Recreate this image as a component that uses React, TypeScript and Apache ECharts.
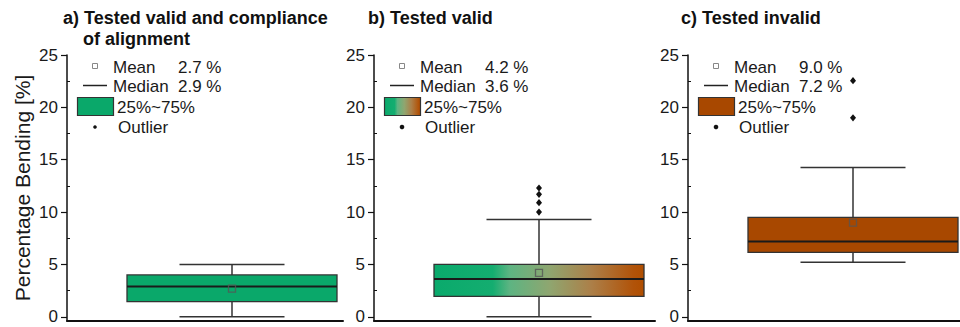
import React, { useEffect, useRef } from 'react';
import * as echarts from 'echarts';

// ---- data ----
const panelTitles: string[][] = [
  ['a) Tested valid and compliance', 'of alignment'],
  ['b) Tested valid'],
  ['c) Tested invalid'],
];
const q1 = [1.45, 1.95, 6.15];
const median = [2.9, 3.6, 7.2];
const q3 = [4.0, 5.0, 9.5];
const whiskerLow = [0.0, 0.0, 5.2];
const whiskerHigh = [5.0, 9.3, 14.25];
const mean = [2.7, 4.2, 9.0];
const outliers: number[][] = [[], [10.0, 10.9, 11.7, 12.3], [19.0, 22.55]];
const yTicks = [0, 5, 10, 15, 20, 25];
const yMinorTicks = [2.5, 7.5, 12.5, 17.5, 22.5];
const yAxisName = 'Percentage Bending [%]';
const legendLabels = ['Mean', 'Median', '25%~75%', 'Outlier'];

// ---- styles / layout ----
const FONT = 'Arial, "Liberation Sans", sans-serif';
const GREEN = '#0aa86a';
const BROWN = '#a84800';
const gradStops = [
  { offset: 0, color: '#0aaa6c' },
  { offset: 0.28, color: '#14ad70' },
  { offset: 0.36, color: '#5db482' },
  { offset: 0.55, color: '#8fa670' },
  { offset: 0.75, color: '#ac7f48' },
  { offset: 0.95, color: '#b15309' },
  { offset: 1, color: '#b04e00' },
];
const makeFill = (i: number) =>
  i === 0 ? GREEN : i === 2 ? BROWN : new echarts.graphic.LinearGradient(0, 0, 1, 0, gradStops);

const grids = [
  { left: 67, width: 276 },
  { left: 374, width: 281 },
  { left: 688, width: 272 },
];
const titleX = [63, 368, 681];
const GRID_TOP = 55;
const GRID_H = 266;
const Y_MIN = -0.4;
const Y_MAX = 25;
const TXT = '#1a1a1a';

export default function App() {
  const ref = useRef<HTMLDivElement>(null);
  useEffect(() => {
    if (!ref.current) return;
    const chart = echarts.init(ref.current, undefined, { renderer: 'svg' });

    const gridOpt = grids.map((g) => ({ left: g.left, width: g.width, top: GRID_TOP, height: GRID_H }));
    const xAxes = grids.map((_, i) => ({
      type: 'value',
      gridIndex: i,
      min: 0,
      max: 1,
      axisLine: { show: true, onZero: false, lineStyle: { color: '#111', width: 2 } },
      axisTick: { show: false },
      axisLabel: { show: false },
      splitLine: { show: false },
    }));
    const mainY = grids.map((_, i) => ({
      type: 'value',
      gridIndex: i,
      min: Y_MIN,
      max: Y_MAX,
      axisLine: { show: true, onZero: false, lineStyle: { color: '#111', width: 1.5 } },
      axisTick: { show: true, length: 6, customValues: yTicks, lineStyle: { color: '#111', width: 1.2 } },
      axisLabel: { show: true, customValues: yTicks, margin: 9, fontSize: 17, color: TXT, fontFamily: FONT },
      splitLine: { show: false },
    }));
    const minorY = grids.map((_, i) => ({
      type: 'value',
      gridIndex: i,
      min: Y_MIN,
      max: Y_MAX,
      axisLine: { show: false },
      axisTick: { show: true, length: 3, customValues: yMinorTicks, lineStyle: { color: '#111', width: 1 } },
      axisLabel: { show: false },
      splitLine: { show: false },
    }));

    const series = grids.map((_, i) => ({
      type: 'custom',
      xAxisIndex: i,
      yAxisIndex: i,
      data: [[0.5, median[i]]],
      encode: { x: 0, y: 1 },
      renderItem: (params: any, api: any) => {
        const cs = params.coordSys;
        const cx = cs.x + 165;
        const Y = (v: number) => api.coord([0, v])[1];
        const hw = 105;
        const cap = 52.5;
        const stroke = '#333';
        const children: any[] = [
          { type: 'line', shape: { x1: cx, y1: Y(whiskerLow[i]), x2: cx, y2: Y(whiskerHigh[i]) }, style: { stroke, lineWidth: 1.5 } },
          { type: 'line', shape: { x1: cx - cap, y1: Y(whiskerLow[i]), x2: cx + cap, y2: Y(whiskerLow[i]) }, style: { stroke, lineWidth: 1.5 } },
          { type: 'line', shape: { x1: cx - cap, y1: Y(whiskerHigh[i]), x2: cx + cap, y2: Y(whiskerHigh[i]) }, style: { stroke, lineWidth: 1.5 } },
          {
            type: 'rect',
            shape: { x: cx - hw, y: Y(q3[i]), width: 2 * hw, height: Y(q1[i]) - Y(q3[i]) },
            style: { fill: makeFill(i), stroke, lineWidth: 1.3 },
          },
          { type: 'line', shape: { x1: cx - hw, y1: Y(median[i]), x2: cx + hw, y2: Y(median[i]) }, style: { stroke: '#1a1a1a', lineWidth: 2 } },
          {
            type: 'rect',
            shape: { x: cx - 3.5, y: Y(mean[i]) - 3.5, width: 7, height: 7 },
            style: { fill: 'none', stroke: '#555', lineWidth: 1.3, opacity: 0.8 },
          },
        ];
        outliers[i].forEach((v) => {
          const y = Y(v);
          children.push({
            type: 'polygon',
            shape: { points: [[cx, y - 3.6], [cx + 3, y], [cx, y + 3.6], [cx - 3, y]] },
            style: { fill: '#111' },
          });
        });
        return { type: 'group', children };
      },
    }));

    const graphic: any[] = [];
    // y axis name
    graphic.push({
      type: 'text',
      x: 22,
      y: 188,
      rotation: Math.PI / 2,
      style: { text: yAxisName, fontSize: 21, fontFamily: FONT, fill: TXT, align: 'center', verticalAlign: 'middle' },
    });
    // titles
    panelTitles.forEach((lines, i) => {
      lines.forEach((t, k) => {
        graphic.push({
          type: 'text',
          x: titleX[i] + (k > 0 ? 20 : 0),
          y: 18 + k * 21,
          style: { text: t, fontSize: 18, fontWeight: 'bold', fontFamily: FONT, fill: '#111', verticalAlign: 'middle' },
        });
      });
    });
    // legends
    grids.forEach((g, i) => {
      const x0 = g.left;
      const ts = { fontSize: 17, fontFamily: FONT, fill: TXT, verticalAlign: 'middle' };
      graphic.push(
        { type: 'rect', shape: { x: x0 + 25.5, y: 63.5, width: 5, height: 5 }, style: { fill: '#fff', stroke: '#888', lineWidth: 1 } },
        { type: 'text', x: x0 + 46, y: 67, style: { ...ts, text: legendLabels[0] } },
        { type: 'text', x: x0 + 111, y: 67, style: { ...ts, text: `${mean[i].toFixed(1)} %` } },
        { type: 'line', shape: { x1: x0 + 16, y1: 85.5, x2: x0 + 40, y2: 85.5 }, style: { stroke: '#222', lineWidth: 1.5 } },
        { type: 'text', x: x0 + 46, y: 86, style: { ...ts, text: legendLabels[1] } },
        { type: 'text', x: x0 + 111, y: 86, style: { ...ts, text: `${median[i].toFixed(1)} %` } },
        { type: 'rect', shape: { x: x0 + 10.5, y: 97.5, width: 36, height: 18 }, style: { fill: makeFill(i), stroke: '#333', lineWidth: 1.2 } },
        { type: 'text', x: x0 + 50, y: 107, style: { ...ts, text: legendLabels[2] } },
        { type: 'circle', shape: { cx: x0 + 28, cy: 127, r: i === 0 ? 1.8 : 2.3 }, style: { fill: '#111' } },
        { type: 'text', x: x0 + 51, y: 127, style: { ...ts, text: legendLabels[3] } }
      );
    });

    chart.setOption({
      animation: false,
      backgroundColor: '#fff',
      grid: gridOpt,
      xAxis: xAxes,
      yAxis: [...mainY, ...minorY],
      series,
      graphic,
    });
    return () => chart.dispose();
  }, []);

  return <div ref={ref} style={{ position: 'fixed', left: 0, top: 0, width: 960, height: 327 }} />;
}
